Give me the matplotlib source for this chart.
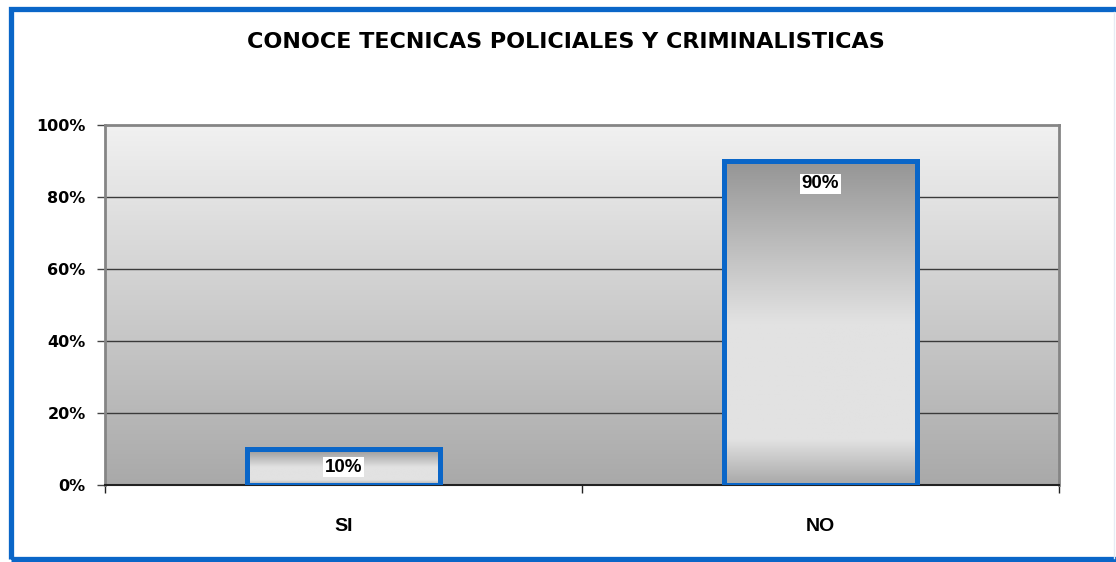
import numpy as np
import matplotlib
matplotlib.use("Agg")
import matplotlib.pyplot as plt
from matplotlib.colors import LinearSegmentedColormap
from matplotlib.patches import Rectangle
from matplotlib.ticker import PercentFormatter

# Data
categories = ["SI", "NO"]
values = [10, 90]
title = "CONOCE TECNICAS POLICIALES Y CRIMINALISTICAS"
yticks = [0, 20, 40, 60, 80, 100]

W, H = 1116, 562
fig = plt.figure(figsize=(W / 100, H / 100), dpi=100)
fig.patch.set_facecolor("white")

# Blue frame around the chart (runs off the right edge)
frame = Rectangle((10.5 / W, 3.5 / H), 1.2, (H - 12) / H, transform=fig.transFigure,
                  fill=False, edgecolor="#0a66c8", linewidth=3.8, zorder=0)
fig.patches.append(frame)
fig.add_artist(plt.Line2D([1114 / W, 1114 / W], [4 / H, (H - 12) / H],
                          transform=fig.transFigure, color="#e6ecf4", linewidth=1))

ax_h_px = 360
ax = fig.add_axes([105 / W, 77 / H, 954 / W, ax_h_px / H])

x = np.arange(len(categories))
ax.set_xlim(-0.5, len(categories) - 0.5)
ax.set_ylim(0, 100)

# Plot-area background: light at the top, darker at the bottom
bg_cmap = LinearSegmentedColormap.from_list("bg", ["#a9a9a9", "#f1f1f1"])
grad = np.linspace(0, 1, 256).reshape(-1, 1)
ax.imshow(grad, cmap=bg_cmap, origin="lower", aspect="auto",
          extent=[-0.5, len(categories) - 0.5, 0, 100], zorder=0)

# Gridlines
for t in yticks[1:-1]:
    ax.axhline(t, color="#3a3a3a", linewidth=1.0, zorder=1)

# Bars with a vertical shaded fill
bars = ax.bar(x, values, width=0.405, facecolor="none", edgecolor="#0a66c8",
              linewidth=3.6, zorder=3)
bar_cmap = LinearSegmentedColormap.from_list(
    "bar", [(0.0, "#a8a8a8"), (0.14, "#e2e2e2"), (0.5, "#e2e2e2"), (1.0, "#959595")])
for b in bars:
    bx, by, bw, bh = b.get_x(), b.get_y(), b.get_width(), b.get_height()
    im = ax.imshow(grad, cmap=bar_cmap, origin="lower", aspect="auto",
                   extent=[bx, bx + bw, by, by + bh], zorder=2)
    im.set_clip_path(b)

# Value labels in white boxes just inside the top of each bar
for xi, v in zip(x, values):
    bar_px = v / 100 * ax_h_px
    off_px = min(23, bar_px / 2)
    ax.annotate(f"{v}%", (xi, v), xytext=(0, -off_px * 0.72), textcoords="offset points",
                ha="center", va="center", fontsize=13.5, fontweight="bold",
                family="Liberation Sans", color="black", zorder=5,
                bbox=dict(boxstyle="square,pad=0.08", facecolor="white", edgecolor="none"))

ax.set_xlim(-0.5, len(categories) - 0.5)
ax.set_ylim(0, 100)

# Axes styling
ax.set_yticks(yticks)
ax.yaxis.set_major_formatter(PercentFormatter(decimals=0))
ax.set_xticks(x)
ax.set_xticklabels(categories, fontsize=14, fontweight="bold", family="Liberation Sans")
ax.set_xticks([-0.5, 0.5, 1.5], minor=True)
ax.tick_params(axis="x", which="major", length=0, pad=24)
ax.tick_params(axis="x", which="minor", length=6, width=1, color="#222222")
ax.tick_params(axis="y", length=6, width=1, color="#444444", pad=8)
for lab in ax.get_yticklabels():
    lab.set_fontsize(11.5)
    lab.set_fontweight("bold")
    lab.set_family("DejaVu Sans")

for side in ["left", "top", "right"]:
    ax.spines[side].set_color("#858585")
    ax.spines[side].set_linewidth(2.0)
ax.spines["bottom"].set_color("#222222")
ax.spines["bottom"].set_linewidth(1.5)

fig.text(566 / W, 1 - 42 / H, title, ha="center", va="center",
         fontsize=16, fontweight="bold", family="DejaVu Sans", color="black")

fig.savefig("out.png", dpi=100)
